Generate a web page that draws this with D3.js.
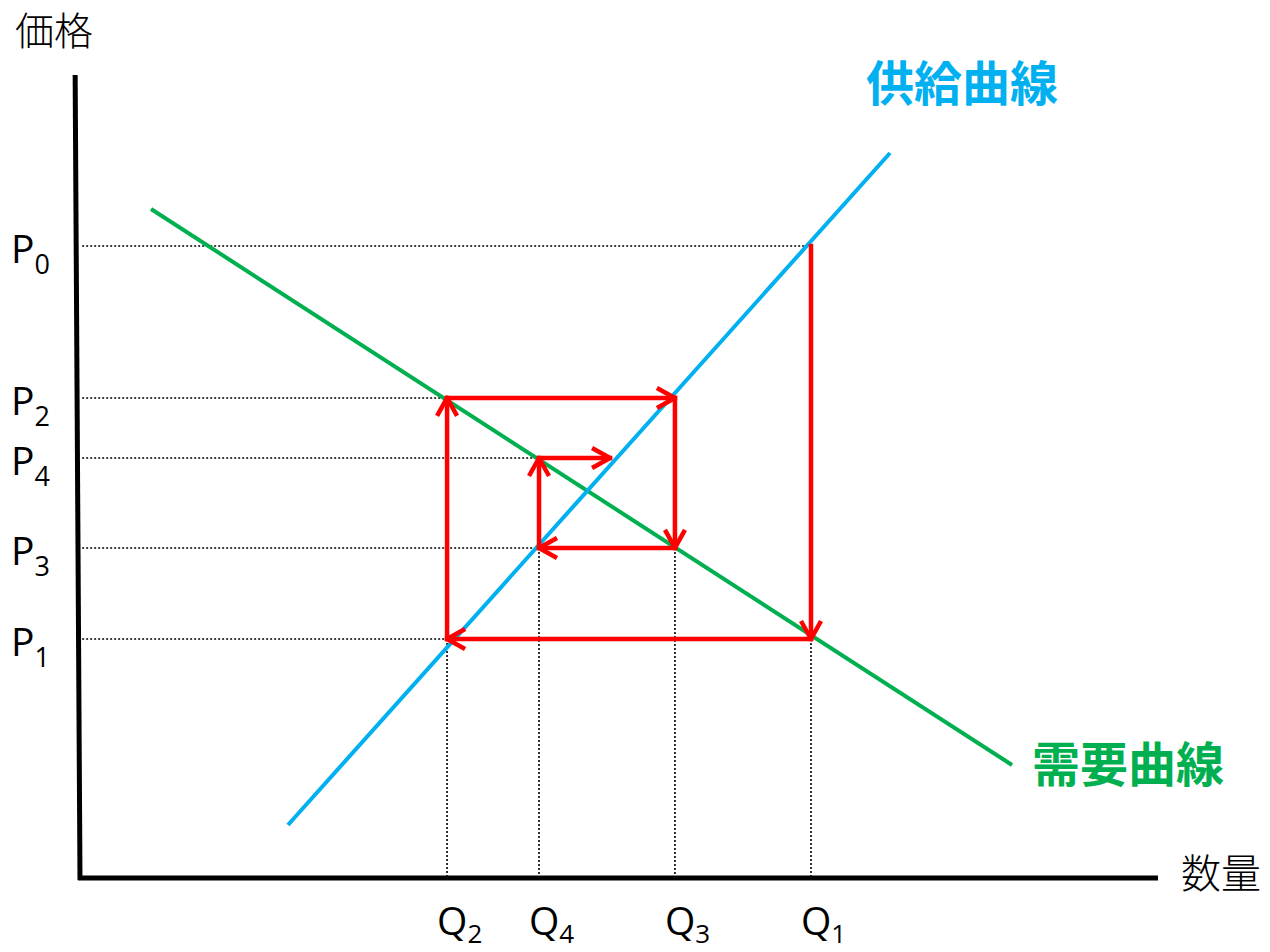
<!DOCTYPE html>
<html>
<head>
<meta charset="utf-8">
<script src="https://cdn.jsdelivr.net/npm/d3@7"></script>
<style>
  body { margin: 0; background: #fff; }
  svg { display: block; }
</style>
</head>
<body>
<div id="chart"></div>
<script>
// price levels (P0..P4) in chart units, 0-100
let priceNames = ["0", "1", "2", "3", "4"];
let priceValues = [78.7, 29.76, 59.78, 41.1, 52.3];

// quantity levels (Q1..Q4)
let qtyNames = ["1", "2", "3", "4"];
let qtyValues = [67.81, 34.05, 55.19, 42.58];

// supply and demand lines, [quantity, price] at each end
let supplyLine = [[19.29, 6.6], [75.14, 90.29]];
let demandLine = [[6.59, 83.31], [86.46, 14.07]];

// cobweb path, quantity and price at each corner
let cobwebQ = [67.81, 67.81, 34.05, 34.05, 55.19, 55.19, 42.58, 42.58, 49.17];
let cobwebP = [78.7, 29.76, 29.76, 59.78, 59.78, 41.1, 41.1, 52.3, 52.3];

// dotted guides: which quantity each price guide runs to, and which price each quantity guide starts at
let guideHq = [67.81, 34.05, 34.05, 42.58, 42.58];   // for P0..P4
let guideVp = [29.76, 29.76, 41.1, 41.1];            // for Q1..Q4

////////////////////////////////////////////////////////////////////////

let width = 1270;
let height = 952;

let svg = d3.select("#chart")
  .append("svg")
  .attr("width", width).attr("height", height);

let xScale = d3.scaleLinear().domain([0, 100]).range([80, 1158]);
let yScale = d3.scaleLinear().domain([0, 100]).range([878, 75]);

let red = "#ff0000";
let blue = "#00b0f0";
let green = "#00b050";
let latin = "'Open Sans', 'Noto Sans', sans-serif";
let cjk = "'Noto Sans CJK JP', sans-serif";

// arrow head marker
svg.append("defs").append("marker")
  .attr("id", "arrow")
  .attr("markerUnits", "userSpaceOnUse")
  .attr("viewBox", "-24 -14 28 28")
  .attr("markerWidth", 28).attr("markerHeight", 28)
  .attr("refX", 0).attr("refY", 0)
  .attr("orient", "auto")
  .append("path")
  .attr("d", "M-18,-10 L0,0 L-18,10")
  .attr("fill", "none")
  .attr("stroke", red)
  .attr("stroke-width", 4.5)
  .attr("stroke-linejoin", "round");

// dotted guides
let guides = svg.append("g")
  .attr("stroke", "black")
  .attr("stroke-width", 1.6)
  .attr("stroke-dasharray", "2,2");

guides.selectAll(".hguide")
  .data(priceValues)
  .enter().append("line")
  .attr("class", "hguide")
  .attr("x1", xScale(0.2))
  .attr("x2", (d, i) => xScale(guideHq[i]))
  .attr("y1", (d) => yScale(d))
  .attr("y2", (d) => yScale(d));

guides.selectAll(".vguide")
  .data(qtyValues)
  .enter().append("line")
  .attr("class", "vguide")
  .attr("x1", (d) => xScale(d))
  .attr("x2", (d) => xScale(d))
  .attr("y1", (d, i) => yScale(guideVp[i]))
  .attr("y2", yScale(0));

// supply and demand
let line = d3.line().x((d) => xScale(d[0])).y((d) => yScale(d[1]));

svg.append("path")
  .attr("d", line(demandLine))
  .attr("fill", "none")
  .attr("stroke", green)
  .attr("stroke-width", 4);

svg.append("path")
  .attr("d", line(supplyLine))
  .attr("fill", "none")
  .attr("stroke", blue)
  .attr("stroke-width", 4);

// cobweb arrows
let steps = d3.range(cobwebQ.length - 1);
svg.append("g")
  .selectAll(".step")
  .data(steps)
  .enter().append("line")
  .attr("class", "step")
  .attr("x1", (i) => xScale(cobwebQ[i]))
  .attr("y1", (i) => yScale(cobwebP[i]))
  .attr("x2", (i) => xScale(cobwebQ[i + 1]))
  .attr("y2", (i) => yScale(cobwebP[i + 1]))
  .attr("stroke", red)
  .attr("stroke-width", 4.5)
  .attr("stroke-linecap", "square")
  .attr("marker-end", "url(#arrow)");

// axes
svg.append("line")
  .attr("x1", xScale(-0.45)).attr("y1", yScale(100))
  .attr("x2", xScale(0)).attr("y2", yScale(0) + 2)
  .attr("stroke", "black").attr("stroke-width", 5);

svg.append("line")
  .attr("x1", xScale(0) - 2).attr("y1", yScale(0))
  .attr("x2", xScale(100)).attr("y2", yScale(0))
  .attr("stroke", "black").attr("stroke-width", 5);

// price labels
let pLabels = svg.selectAll(".plabel")
  .data(priceValues)
  .enter().append("text")
  .attr("class", "plabel")
  .attr("x", 11)
  .attr("y", (d) => yScale(d) + 17)
  .style("font-family", latin)
  .style("font-size", "39px")
  .attr("fill", "black");
pLabels.append("tspan").text("P");
pLabels.append("tspan")
  .attr("dy", 11)
  .style("font-size", "27px")
  .text((d, i) => priceNames[i]);

// quantity labels
let qLabels = svg.selectAll(".qlabel")
  .data(qtyValues)
  .enter().append("text")
  .attr("class", "qlabel")
  .attr("x", (d) => xScale(d) - 10)
  .attr("y", 935)
  .style("font-family", latin)
  .style("font-size", "39px")
  .attr("fill", "black");
qLabels.append("tspan").text("Q");
qLabels.append("tspan")
  .attr("dy", 8)
  .style("font-size", "26px")
  .text((d, i) => qtyNames[i]);

// axis titles
svg.append("text")
  .attr("x", 15).attr("y", 45)
  .style("font-family", cjk)
  .style("font-size", "39px")
  .style("font-weight", 300)
  .text("価格");

svg.append("text")
  .attr("x", 1181).attr("y", 888)
  .style("font-family", cjk)
  .style("font-size", "40px")
  .style("font-weight", 300)
  .text("数量");

// curve names
svg.append("text")
  .attr("x", 866).attr("y", 101)
  .style("font-family", cjk)
  .style("font-size", "48px")
  .style("font-weight", "bold")
  .attr("fill", blue)
  .text("供給曲線");

svg.append("text")
  .attr("x", 1032).attr("y", 782)
  .style("font-family", cjk)
  .style("font-size", "48px")
  .style("font-weight", "bold")
  .attr("fill", green)
  .text("需要曲線");
</script>
</body>
</html>
